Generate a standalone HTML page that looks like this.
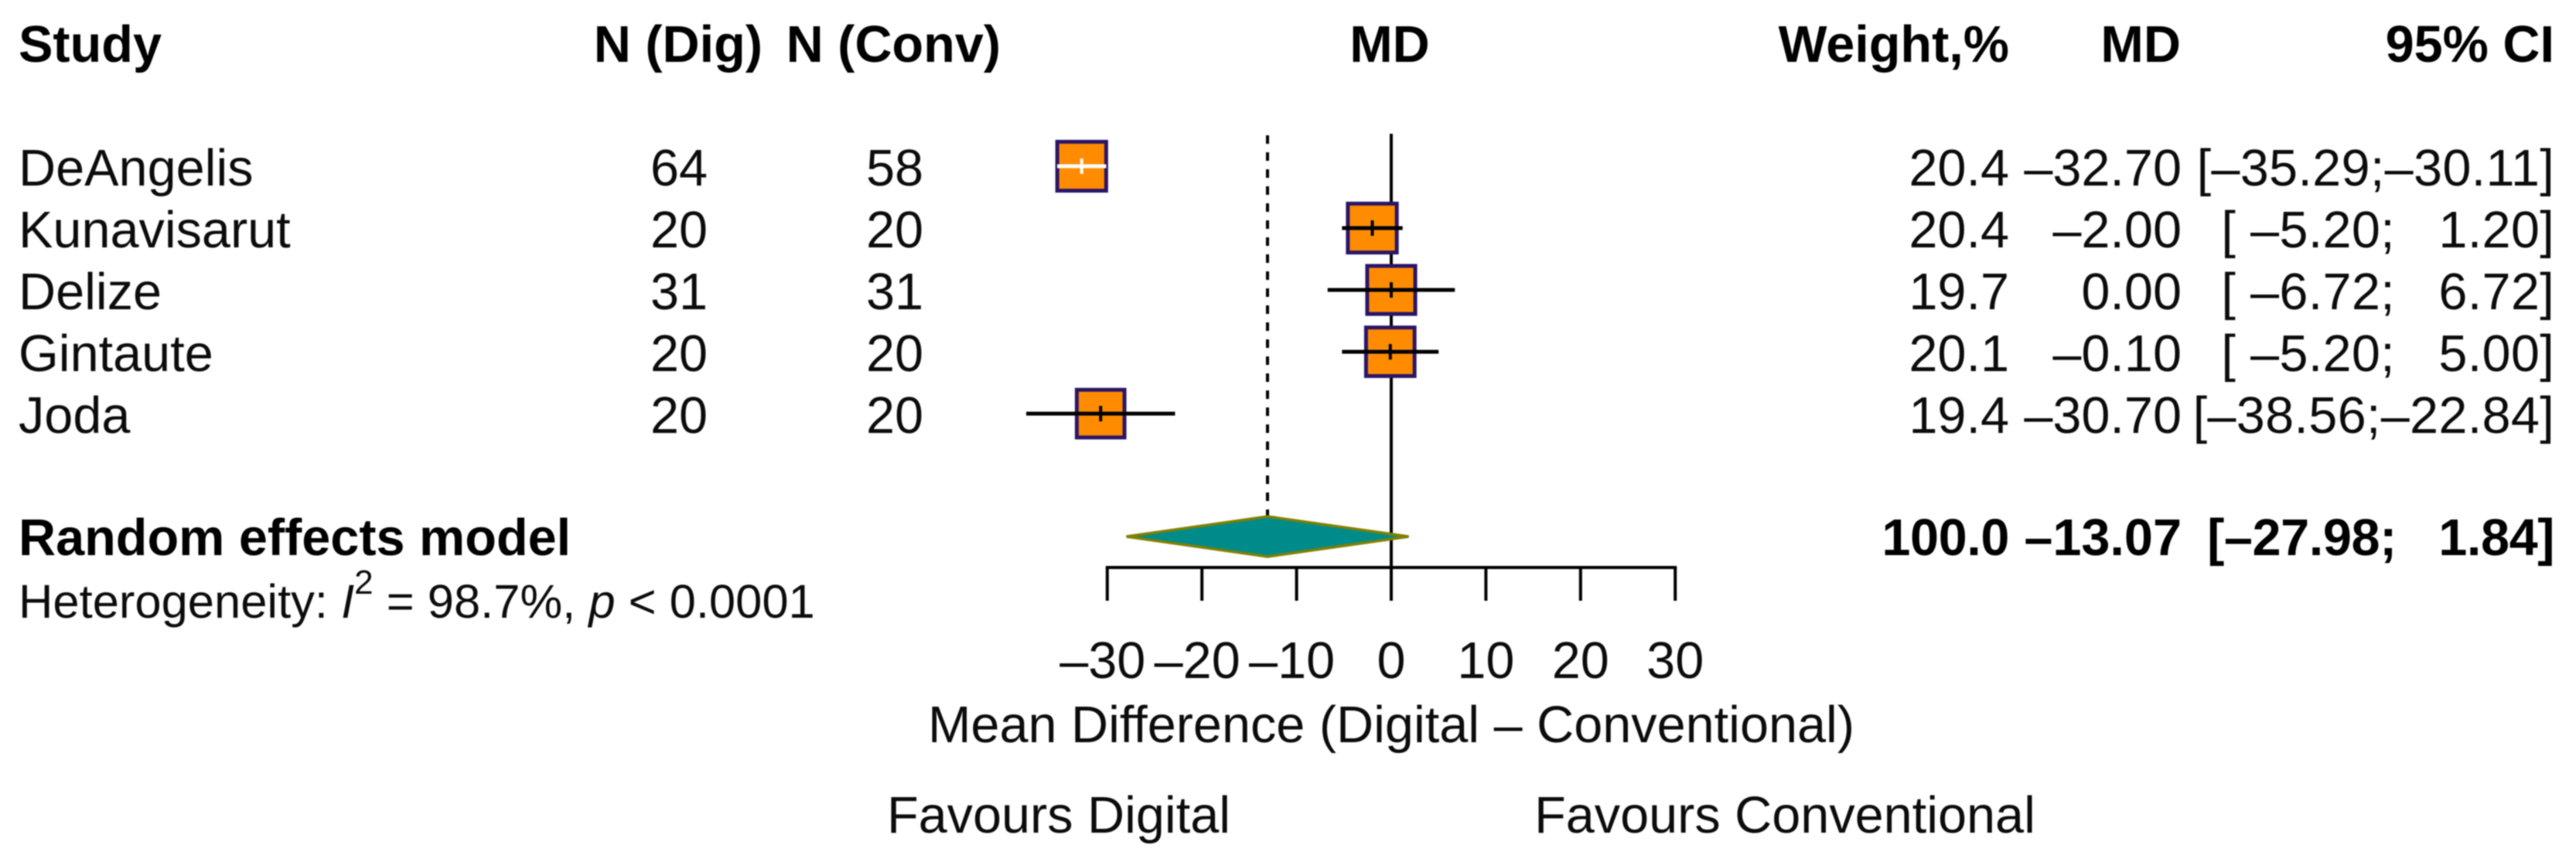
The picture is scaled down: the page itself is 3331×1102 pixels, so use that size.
<!DOCTYPE html>
<html lang="en">
<head>
<meta charset="utf-8">
<title>Forest plot</title>
<style>
html,body{margin:0;padding:0;background:#fff;width:3331px;height:1102px;overflow:hidden}
svg{display:block;filter:blur(0.7px)}
text{font-family:"Liberation Sans",Arial,sans-serif;font-size:66.6px;fill:#0c0c0c;white-space:pre}
.b{font-weight:bold;fill:#000}
.ci{letter-spacing:0.3px}
.tight{letter-spacing:-0.4px}
</style>
</head>
<body>
<svg id="chart" xmlns="http://www.w3.org/2000/svg" width="3331" height="1102" viewBox="0 0 3331 1102">
<rect width="3331" height="1102" fill="#fff"/>
<text class="b" x="24" y="80">Study</text>
<text class="b" x="986" y="80" text-anchor="end">N (Dig)</text>
<text class="b" x="1294" y="80" text-anchor="end">N (Conv)</text>
<text class="b" x="1797" y="80" text-anchor="middle">MD</text>
<text class="b" x="2598" y="80" text-anchor="end">Weight,%</text>
<text class="b" x="2820" y="80" text-anchor="end">MD</text>
<text class="b" x="3303" y="80" text-anchor="end">95% CI</text>
<g id="plot"></g>
<text class="b" x="24" y="718">Random effects model</text>
<text x="24" y="799" style="font-size:61.5px">Heterogeneity: <tspan font-style="italic">I</tspan><tspan dy="-31" style="font-size:44px">2</tspan><tspan dy="31"> = 98.7%, </tspan><tspan font-style="italic">p</tspan> &lt; 0.0001</text>
<text x="1799" y="960" text-anchor="middle">Mean Difference (Digital – Conventional)</text>
<text x="1369" y="1077" text-anchor="middle">Favours Digital</text>
<text x="2308" y="1077" text-anchor="middle">Favours Conventional</text>
</svg>
<script>
const studies = ["DeAngelis", "Kunavisarut", "Delize", "Gintaute", "Joda"];
const nDigital = [64, 20, 31, 20, 20];
const nConventional = [58, 20, 31, 20, 20];
const meanDiff = [-32.70, -2.00, 0.00, -0.10, -30.70];
const ciLow = [-35.29, -5.20, -6.72, -5.20, -38.56];
const ciHigh = [-30.11, 1.20, 6.72, 5.00, -22.84];
const weights = [20.4, 20.4, 19.7, 20.1, 19.4];
const pooledWeight = [100.0];
const pooledMD = [-13.07];
const pooledLow = [-27.98];
const pooledHigh = [1.84];
const xTicks = [-30, -20, -10, 0, 10, 20, 30];

const NS = "http://www.w3.org/2000/svg";
const plot = document.getElementById("plot");
const x = v => 1799 + v * 12.24;
const rowY = i => 215 + i * 80;
const fmt = v => (v < 0 ? "–" : "") + Math.abs(v).toFixed(2);

function ciText(lo, hi) {
  const l = lo <= -10 ? fmt(lo) : " " + fmt(lo);
  let h;
  if (hi <= -10) h = fmt(hi);
  else if (hi < 0) h = " " + fmt(hi);
  else h = "   " + fmt(hi);
  return "[" + l + ";" + h + "]";
}

function shape(tag, attrs, parent) {
  const el = document.createElementNS(NS, tag);
  for (const k in attrs) el.setAttribute(k, attrs[k]);
  (parent || plot).appendChild(el);
  return el;
}
function label(str, px, py, anchor, cls) {
  const el = document.createElementNS(NS, "text");
  el.setAttribute("x", px);
  el.setAttribute("y", py);
  el.setAttribute("text-anchor", anchor);
  if (cls) el.setAttribute("class", cls);
  el.textContent = str;
  plot.appendChild(el);
  return el;
}

/* reference lines */
const zeroLine = shape("line", {x1: x(0), x2: x(0), y1: 173, y2: 734, stroke: "#000", "stroke-width": 4});


const pooledLine = shape("line", {x1: x(pooledMD[0]), x2: x(pooledMD[0]), y1: 175, y2: 668, stroke: "#000", "stroke-width": 4, "stroke-dasharray": "11 11"});



/* study rows */
studies.forEach((name, i) => {
  const y = rowY(i);
  const base = y + 25;
  const size = 14.0 * Math.sqrt(weights[i]);
  const outer = size + 5;
  const cx = x(meanDiff[i]);
  const inside = x(ciLow[i]) > cx - outer / 2 && x(ciHigh[i]) < cx + outer / 2;
  const col = inside ? "#fff" : "#000";

  const tName = label(name, 24, base, "start");
  
  
  const tDig = label(String(nDigital[i]), 878, base, "middle");
  
  
  const tConv = label(String(nConventional[i]), 1157, base, "middle");
  
  

  const box = shape("rect", {x: cx - size / 2, y: y - size / 2, width: size, height: size, fill: "#ff8c00", stroke: "#2a1568", "stroke-width": 5});
  
  
  const ci = shape("line", {x1: x(ciLow[i]), x2: x(ciHigh[i]), y1: y, y2: y, stroke: col, "stroke-width": 5});
  
  
  const mark = shape("line", {x1: cx, x2: cx, y1: y - 10, y2: y + 10, stroke: col, "stroke-width": 4});
  
  

  const tW = label(weights[i].toFixed(1), 2598, base, "end");
  
  
  const tMD = label(fmt(meanDiff[i]), 2821, base, "end");
  
  
  const tCI = label(ciText(ciLow[i], ciHigh[i]), 3303, base, "end", "ci");
  
  
});

/* pooled estimate */
const diamond = shape("polygon", {
  points: [[x(pooledLow[0]), 694], [x(pooledMD[0]), 668], [x(pooledHigh[0]), 694], [x(pooledMD[0]), 720]].map(p => p.join(",")).join(" "),
  fill: "#008b8b", stroke: "#808000", "stroke-width": 3.5
});


const tPW = label(pooledWeight[0].toFixed(1), 2598, 718, "end", "b tight");


const tPM = label(fmt(pooledMD[0]), 2821, 718, "end", "b");


const tPC = label(ciText(pooledLow[0], pooledHigh[0]), 3303, 718, "end", "b tight");



/* x axis */
const axisLine = shape("line", {x1: x(xTicks[0]) - 2, x2: x(xTicks[xTicks.length - 1]) + 2, y1: 734, y2: 734, stroke: "#000", "stroke-width": 4});


xTicks.forEach(t => {
  const tick = shape("line", {x1: x(t), x2: x(t), y1: 734, y2: 777, stroke: "#000", "stroke-width": 4});
  
  
  const tl = label((t < 0 ? "–" : "") + Math.abs(t), x(t) - (t < 0 ? 6 : 0), 877, "middle");
  
  
});
</script>
</body>
</html>
